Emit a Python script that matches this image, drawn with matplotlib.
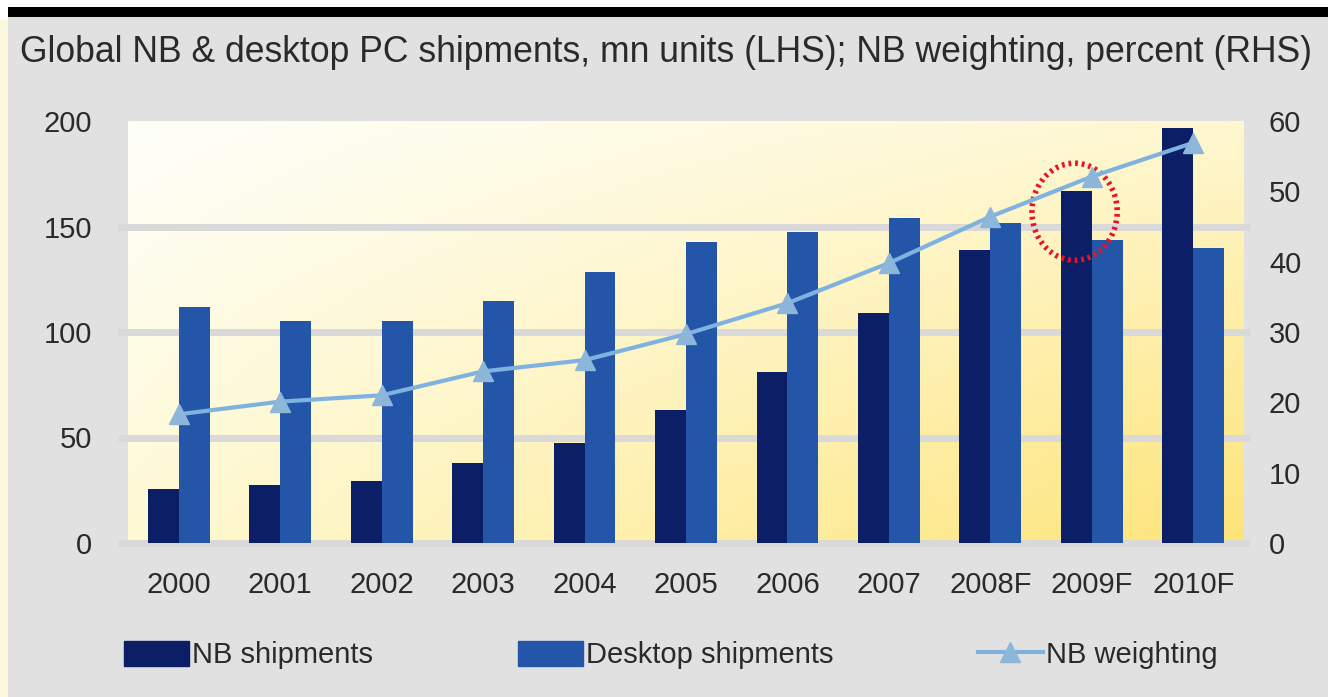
import numpy as np
import matplotlib
matplotlib.use("Agg")
import matplotlib.pyplot as plt
from matplotlib.patches import Ellipse, Rectangle
from matplotlib.lines import Line2D

years = ["2000", "2001", "2002", "2003", "2004", "2005", "2006", "2007",
         "2008F", "2009F", "2010F"]
nb_shipments = [25.4, 27.3, 29.4, 37.8, 47.2, 63.0, 80.9, 108.9, 138.9, 167.0, 196.5]
desktop_shipments = [111.7, 105.2, 105.2, 114.5, 128.6, 142.8, 147.2, 153.9, 151.8, 143.6, 140.0]
nb_weighting = [18.3, 20.1, 21.0, 24.4, 26.0, 29.7, 34.1, 39.8, 46.4, 52.1, 56.9]
left_ticks = [0, 50, 100, 150, 200]
right_ticks = [0, 10, 20, 30, 40, 50, 60]

plt.rcParams["font.family"] = ["Liberation Sans", "DejaVu Sans"]

NB_COL = "#0c1f66"
DT_COL = "#2356a8"
LINE_COL = "#80b2e0"
MARK_COL = "#8cb6da"
BG = "#e1e1e1"
TXT = "#2a2a2a"

W, H = 1328, 697
fig = plt.figure(figsize=(W / 100, H / 100), dpi=100, facecolor=BG)

# top black rule and faint strip on the left edge
fig.patches.append(Rectangle((0, 0), 1, 1, transform=fig.transFigure,
                             facecolor="white", zorder=-3))
fig.patches.append(Rectangle((8 / W, 0), 1, 1 - 17 / H, transform=fig.transFigure,
                             facecolor=BG, zorder=-2))
fig.patches.append(Rectangle((0, 0), 8 / W, 1 - 20 / H, transform=fig.transFigure,
                             facecolor="#fdf8dc", zorder=-2))
fig.patches.append(Rectangle((8 / W, 1 - 17 / H), 1, 10 / H, transform=fig.transFigure,
                             facecolor="black", zorder=-1))

ax = fig.add_axes([128 / W, 1 - 543 / H, (1244 - 128) / W, (543 - 121) / H])
ax.set_facecolor("none")

# gradient background of plot area
tl = np.array([255, 255, 250]) / 255
tr = np.array([255, 247, 208]) / 255
bl = np.array([255, 249, 212]) / 255
br = np.array([253, 228, 120]) / 255
u = np.linspace(0, 1, 200)[None, :, None]
v = np.linspace(0, 1, 120)[:, None, None]
grad = (1 - v) * ((1 - u) * tl + u * tr) + v * ((1 - u) * bl + u * br)
ax.imshow(grad, extent=[0, 1, 0, 1], transform=ax.transAxes, aspect="auto",
          zorder=0, interpolation="bilinear")

x = np.arange(len(years))
bw = 0.305
ax.bar(x - bw / 2, nb_shipments, bw, color=NB_COL, label="NB shipments", zorder=2)
ax.bar(x + bw / 2, desktop_shipments, bw, color=DT_COL, label="Desktop shipments", zorder=2)

ax.set_xlim(-0.5, len(years) - 0.5)
ax.set_ylim(0, 200)
ax.set_yticks(left_ticks)
for t in left_ticks[:-1]:
    ax.hlines(t, -0.009, 1.005, transform=ax.get_yaxis_transform(),
              color="#d9d9d9", linewidth=5, zorder=1, clip_on=False)

for s in ax.spines.values():
    s.set_visible(False)
ax.tick_params(axis="y", length=0, pad=26, labelsize=21, labelcolor=TXT)
ax.set_xticks(x)
ax.set_xticklabels(years)
ax.tick_params(axis="x", length=0, pad=20, labelsize=21, labelcolor=TXT)

ax2 = ax.twinx()
ax2.set_ylim(0, 60)
ax2.set_yticks(right_ticks)
for s in ax2.spines.values():
    s.set_visible(False)
ax2.tick_params(axis="y", length=0, pad=18, labelsize=21, labelcolor=TXT)
ax2.plot(x, nb_weighting, color=LINE_COL, linewidth=3, marker="^",
         markersize=15, markerfacecolor=MARK_COL, markeredgecolor=MARK_COL,
         label="NB weighting", zorder=3)

# red dotted circle highlighting 2009F
i09 = years.index("2009F")
ell = Ellipse((x[i09] - 0.17, 157), 0.84, 46, fill=False, edgecolor="#e8142a",
              linewidth=4, linestyle=(0, (0.5, 0.7)), zorder=4)
ax.add_patch(ell)

fig.text(20 / W, 1 - 52 / H,
         "Global NB & desktop PC shipments, mn units (LHS); NB weighting, percent (RHS)",
         fontsize=25.6, color=TXT, va="center", ha="left")

handles = [Rectangle((0, 0), 1, 1, color=NB_COL),
           Rectangle((0, 0), 1, 1, color=DT_COL),
           Line2D([0], [0], color=LINE_COL, linewidth=3, marker="^", markersize=15,
                  markerfacecolor=MARK_COL, markeredgecolor=MARK_COL)]
fig.legend(handles, ["NB shipments", "Desktop shipments", "NB weighting"],
           loc="center left", bbox_to_anchor=(124 / W, 1 - 655 / H), ncol=3,
           frameon=False, fontsize=21, handlelength=2.24, handleheight=0.97,
           handletextpad=0.1, columnspacing=4.95, labelcolor=TXT, borderpad=0,
           borderaxespad=0)

fig.savefig("out.png", dpi=100, facecolor=BG)
